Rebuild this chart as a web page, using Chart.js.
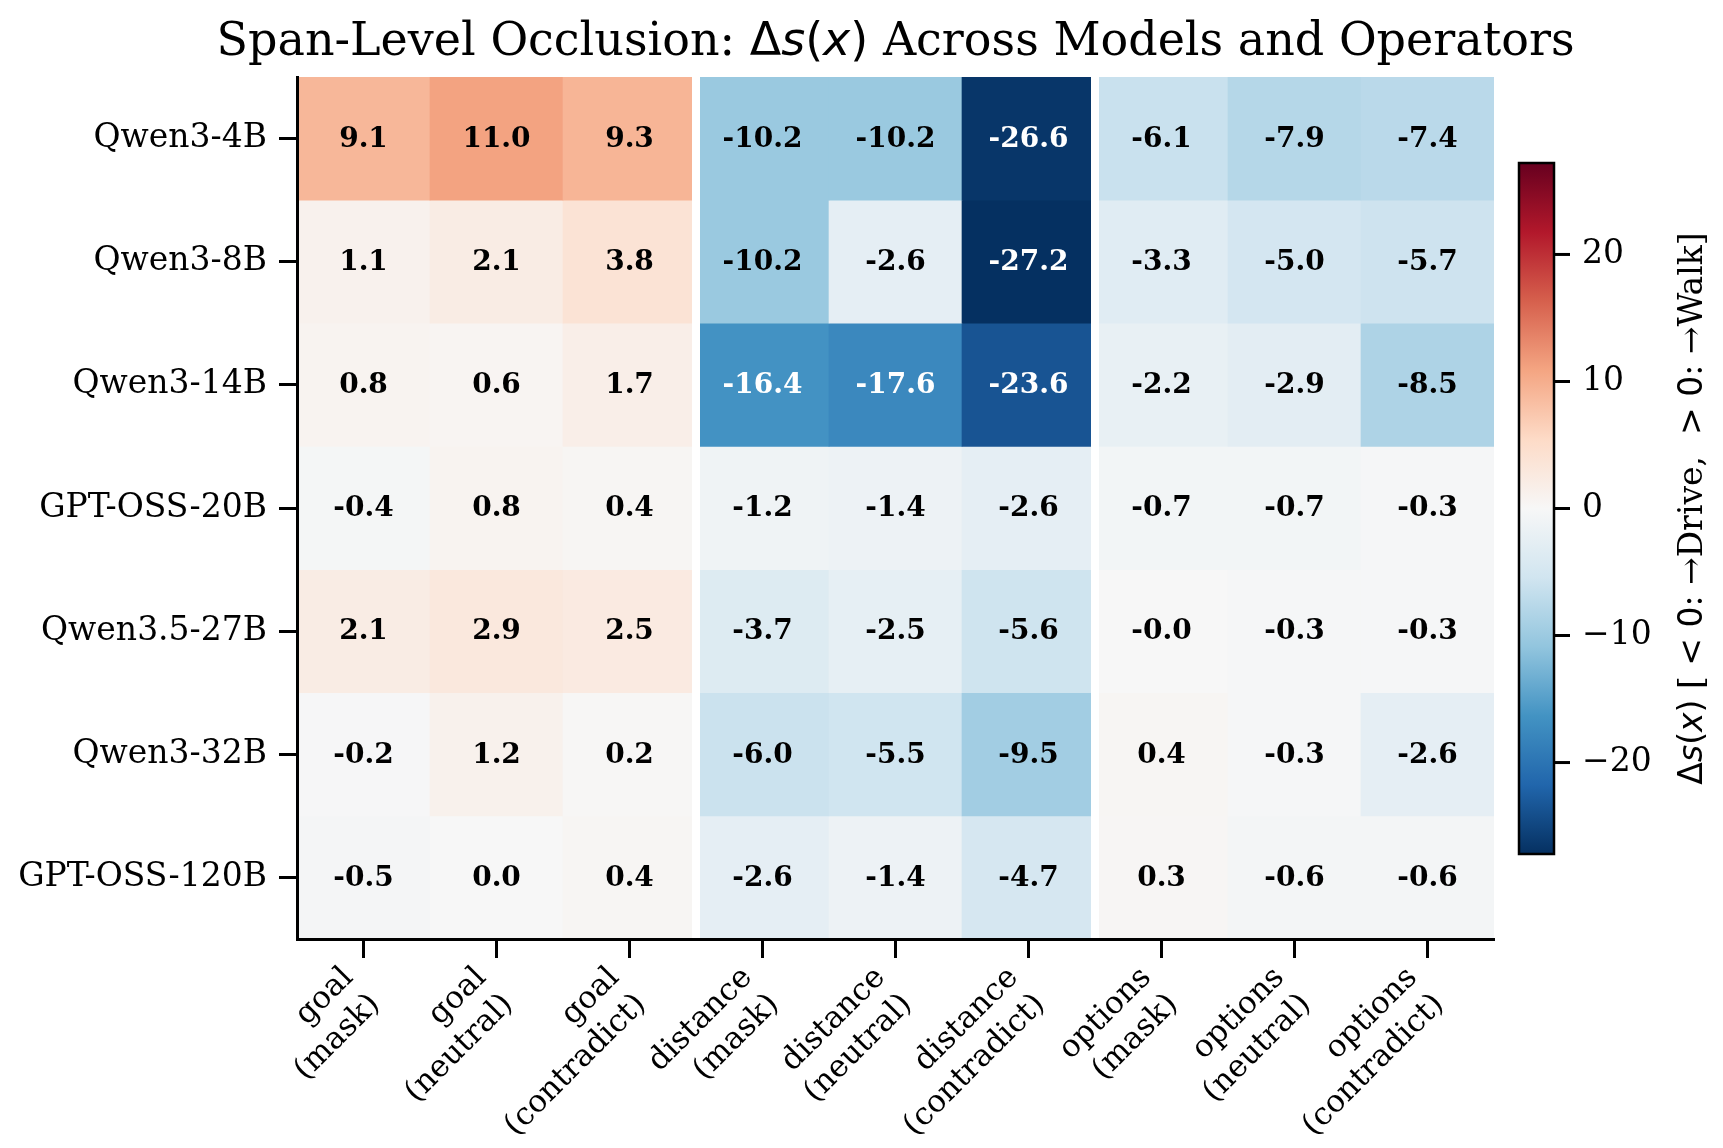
<!DOCTYPE html>
<html>
<head>
<meta charset="utf-8">
<script src="https://cdn.jsdelivr.net/npm/chart.js@4.4.1/dist/chart.umd.min.js"></script>
<style>
  html, body { margin: 0; padding: 0; background: #fff; }
  canvas { display: block; }
</style>
</head>
<body>
<canvas id="heat" width="1723" height="1148" style="width:1723px;height:1148px"></canvas>
<script>
// Dados
const models = ['Qwen3-4B', 'Qwen3-8B', 'Qwen3-14B', 'GPT-OSS-20B', 'Qwen3.5-27B', 'Qwen3-32B', 'GPT-OSS-120B'];
const spans = ['goal', 'distance', 'options'];
const operators = ['mask', 'neutral', 'contradict'];

const qwen3_4b   = [9.1, 11.0, 9.3, -10.2, -10.2, -26.6, -6.1, -7.9, -7.4];
const qwen3_8b   = [1.1, 2.1, 3.8, -10.2, -2.6, -27.2, -3.3, -5.0, -5.7];
const qwen3_14b  = [0.8, 0.6, 1.7, -16.4, -17.6, -23.6, -2.2, -2.9, -8.5];
const gptoss_20b = [-0.4, 0.8, 0.4, -1.2, -1.4, -2.6, -0.7, -0.7, -0.3];
const qwen35_27b = [2.1, 2.9, 2.5, -3.7, -2.5, -5.6, -0.04, -0.3, -0.3];
const qwen3_32b  = [-0.2, 1.2, 0.2, -6.0, -5.5, -9.5, 0.4, -0.3, -2.6];
const gptoss_120b = [-0.5, 0.0, 0.4, -2.6, -1.4, -4.7, 0.3, -0.6, -0.6];

const rows = [qwen3_4b, qwen3_8b, qwen3_14b, gptoss_20b, qwen35_27b, qwen3_32b, gptoss_120b];
const cbarTicks = [-20, -10, 0, 10, 20];

// Rótulos do eixo x: "goal\n(mask)" etc.
const colLabels = [];
spans.forEach(s => operators.forEach(op => colLabels.push([s, '(' + op + ')'])));

const vmax = Math.max(...rows.flat().map(Math.abs));
const vmin = -vmax;

// RdBu_r
const rdbu = ['#053061', '#2166ac', '#4393c3', '#92c5de', '#d1e5f0', '#f7f7f7',
              '#fddbc7', '#f4a582', '#d6604d', '#b2182b', '#67001f'];
const stops = rdbu.map(h => [1, 3, 5].map(i => parseInt(h.substr(i, 2), 16)));

function cmap(v) {
    const t = Math.min(1, Math.max(0, (v - vmin) / (vmax - vmin)));
    const p = t * (stops.length - 1);
    const i = Math.min(stops.length - 2, Math.floor(p));
    const f = p - i;
    return stops[i].map((c, k) => Math.round(c + (stops[i + 1][k] - c) * f));
}
function rgb(c) { return `rgb(${c[0]},${c[1]},${c[2]})`; }
function luminance(c) {
    const lin = c.map(x => { x /= 255; return x <= 0.03928 ? x / 12.92 : Math.pow((x + 0.055) / 1.055, 2.4); });
    return 0.2126 * lin[0] + 0.7152 * lin[1] + 0.0722 * lin[2];
}

const SERIF = '"DejaVu Serif", serif';
const MATH = '"DejaVu Sans", sans-serif';

Chart.defaults.color = '#000';
Chart.defaults.font.family = SERIF;

// desenha texto com trechos de fontes diferentes
function drawRich(ctx, parts, x, y) {
    let total = 0;
    parts.forEach(p => { ctx.font = p.font; p.w = ctx.measureText(p.t).width; total += p.w; });
    let cx = x - total / 2;
    ctx.textAlign = 'left';
    parts.forEach(p => { ctx.font = p.font; ctx.fillText(p.t, cx, y); cx += p.w; });
}

const extras = {
    id: 'extras',
    afterDatasetsDraw(chart) {
        const ctx = chart.ctx;
        const xs = chart.scales.x, ys = chart.scales.y;
        const area = chart.chartArea;
        ctx.save();
        // separadores entre grupos
        ctx.strokeStyle = '#fff';
        ctx.lineWidth = 8;
        [2.5, 5.5].forEach(b => {
            const px = xs.getPixelForValue(b);
            ctx.beginPath();
            ctx.moveTo(px, area.top);
            ctx.lineTo(px, area.bottom);
            ctx.stroke();
        });
        // anotações
        ctx.font = 'bold 28px ' + SERIF;
        ctx.textAlign = 'center';
        ctx.textBaseline = 'middle';
        rows.forEach((vals, r) => {
            vals.forEach((v, c) => {
                ctx.fillStyle = luminance(cmap(v)) > 0.408 ? '#000' : '#fff';
                ctx.fillText(v.toFixed(1), xs.getPixelForValue(c), ys.getPixelForValue(r + 0.5) + 1);
            });
        });
        ctx.restore();
    },
    afterDraw(chart) {
        const ctx = chart.ctx;
        const area = chart.chartArea;
        const xs = chart.scales.x;
        ctx.save();
        ctx.fillStyle = '#000';

        // rótulos do eixo x, girados 45°
        ctx.font = '31px ' + SERIF;
        colLabels.forEach((lines, c) => {
            const px = xs.getPixelForValue(c);
            ctx.save();
            ctx.translate(px - 26, area.bottom + 23);
            ctx.rotate(-Math.PI / 4);
            ctx.textAlign = 'right';
            ctx.textBaseline = 'top';
            lines.forEach((l, j) => ctx.fillText(l, 0, j * 38));
            ctx.restore();
        });

        // título
        ctx.textBaseline = 'alphabetic';
        const tf = '46px ';
        drawRich(ctx, [
            { t: 'Span-Level Occlusion: ', font: tf + SERIF },
            { t: 'Δ', font: tf + MATH },
            { t: 's', font: 'italic ' + tf + MATH },
            { t: '(', font: tf + MATH },
            { t: 'x', font: 'italic ' + tf + MATH },
            { t: ')', font: tf + MATH },
            { t: ' Across Models and Operators', font: tf + SERIF }
        ], (area.left + area.right) / 2, 55);

        // barra de cores
        const cb = { left: 1519, right: 1554, top: 163, bottom: 854 };
        const grad = ctx.createLinearGradient(0, cb.bottom, 0, cb.top);
        rdbu.forEach((h, i) => grad.addColorStop(i / (rdbu.length - 1), h));
        ctx.fillStyle = grad;
        ctx.fillRect(cb.left, cb.top, cb.right - cb.left, cb.bottom - cb.top);
        ctx.strokeStyle = '#000';
        ctx.lineWidth = 2.5;
        ctx.strokeRect(cb.left, cb.top, cb.right - cb.left, cb.bottom - cb.top);

        ctx.fillStyle = '#000';
        ctx.lineWidth = 3;
        ctx.font = '33px ' + SERIF;
        ctx.textAlign = 'left';
        ctx.textBaseline = 'middle';
        cbarTicks.forEach(v => {
            const py = cb.bottom - (v - vmin) / (vmax - vmin) * (cb.bottom - cb.top);
            ctx.beginPath();
            ctx.moveTo(cb.right, py);
            ctx.lineTo(cb.right + 16, py);
            ctx.stroke();
            ctx.fillText(v < 0 ? '\u2212' + Math.abs(v) : String(v), cb.right + 28, py);
        });

        // rótulo da barra de cores
        ctx.translate(1702, (cb.top + cb.bottom) / 2);
        ctx.rotate(-Math.PI / 2);
        ctx.textBaseline = 'alphabetic';
        const lf = '33px ';
        drawRich(ctx, [
            { t: 'Δ', font: lf + MATH },
            { t: 's', font: 'italic ' + lf + MATH },
            { t: '(', font: lf + MATH },
            { t: 'x', font: 'italic ' + lf + MATH },
            { t: ')', font: lf + MATH },
            { t: ' [ ', font: lf + SERIF },
            { t: '< 0', font: lf + MATH },
            { t: ': \u2192Drive,  ', font: lf + SERIF },
            { t: '> 0', font: lf + MATH },
            { t: ': \u2192Walk]', font: lf + SERIF }
        ], 0, 0);
        ctx.restore();
    }
};

const datasets = rows.map((vals, r) => ({
    label: models[r],
    data: vals.map(() => [r, r + 1]),
    backgroundColor: vals.map(v => rgb(cmap(v))),
    borderWidth: 0,
    grouped: false,
    barPercentage: 1,
    categoryPercentage: 1
}));

new Chart(document.getElementById('heat'), {
    type: 'bar',
    data: { labels: colLabels, datasets: datasets },
    plugins: [extras],
    options: {
        responsive: false,
        devicePixelRatio: 1,
        animation: false,
        layout: { padding: { top: 77, right: 229, bottom: 0, left: 0 } },
        plugins: { legend: { display: false }, tooltip: { enabled: false } },
        scales: {
            x: {
                type: 'category',
                offset: true,
                grid: { offset: false, drawOnChartArea: false, tickLength: 19, tickWidth: 3, tickColor: '#000' },
                border: { display: true, color: '#000', width: 3, z: 1 },
                ticks: { display: false, autoSkip: false },
                afterFit: s => { s.height = 209; }
            },
            y: {
                type: 'linear',
                min: 0,
                max: models.length,
                reverse: true,
                grid: { drawOnChartArea: false, tickLength: 18, tickWidth: 3, tickColor: '#000' },
                border: { display: true, color: '#000', width: 3, z: 1 },
                ticks: {
                    font: { size: 33, family: SERIF },
                    padding: 12,
                    callback: v => models[Math.round(v - 0.5)]
                },
                afterBuildTicks: s => { s.ticks = models.map((m, i) => ({ value: i + 0.5 })); },
                afterFit: s => { s.width = 297; }
            }
        }
    }
});
</script>
</body>
</html>
